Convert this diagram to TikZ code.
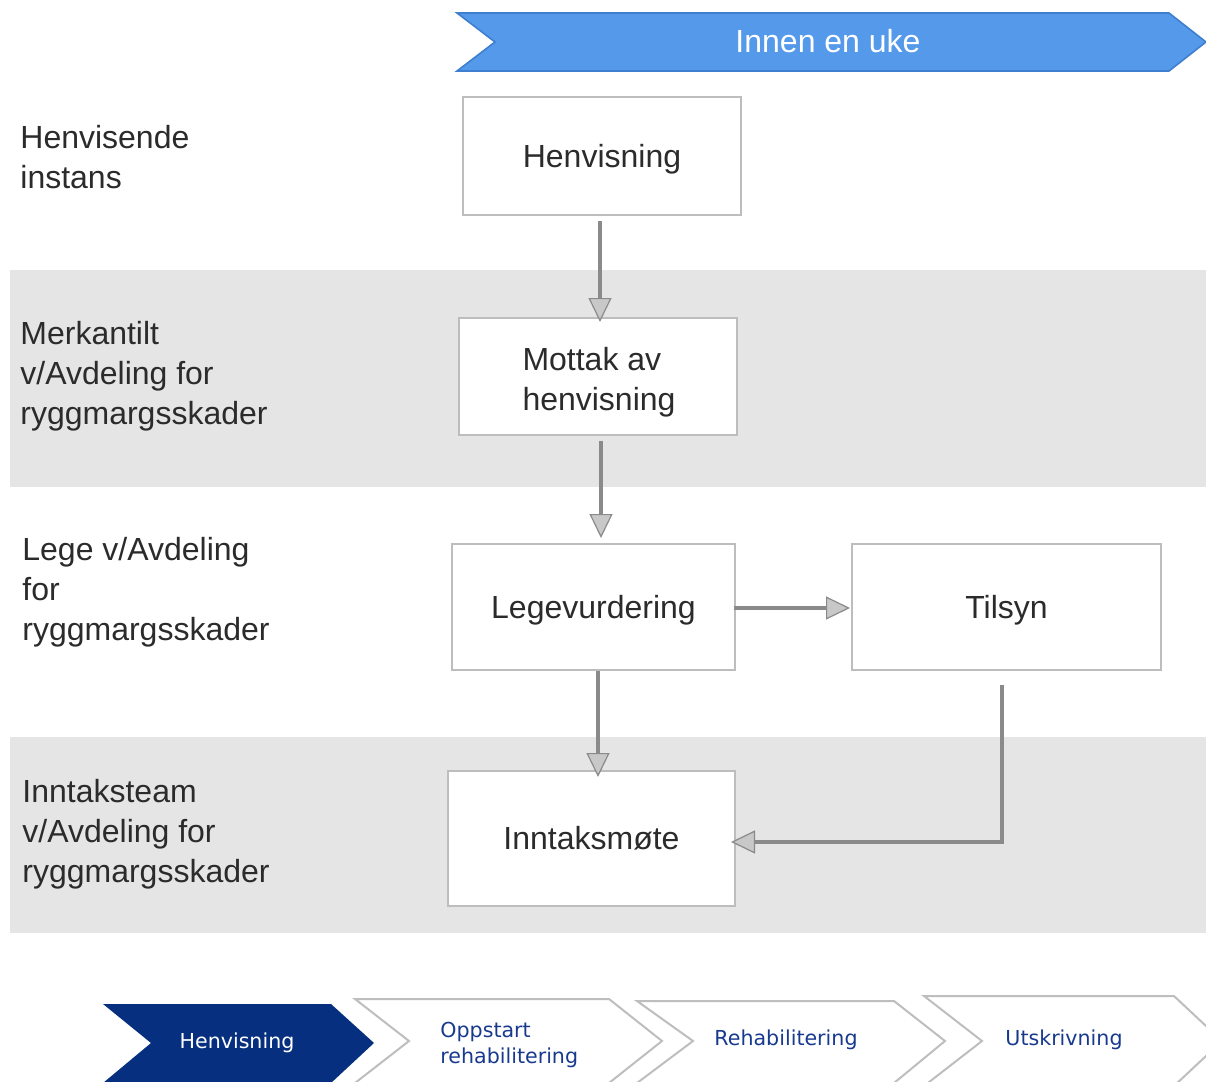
\documentclass[tikz,border=0pt]{standalone}
\usepackage{fontspec}
\setmainfont{Liberation Sans}
\newfontfamily\chevfont{DejaVu Sans}
\usetikzlibrary{arrows.meta,calc}
\definecolor{band}{HTML}{E5E5E5}
\definecolor{boxline}{HTML}{BDBDBD}
\definecolor{flowgray}{HTML}{8A8A8A}
\definecolor{tipfill}{HTML}{C8C8C8}
\definecolor{bannerblue}{HTML}{5599EB}
\definecolor{bannerline}{HTML}{3F7FD0}
\definecolor{navy}{HTML}{06307F}
\definecolor{chevtext}{HTML}{183A8E}
\definecolor{chevline}{HTML}{BEBEBE}
\definecolor{ink}{HTML}{2B2B2B}
\begin{document}
\begin{tikzpicture}[x=0.5pt,y=-0.5pt,
  stepbox/.style={draw=boxline,line width=1pt,fill=white,inner sep=0pt,
    font=\fontsize{16}{20}\selectfont,text=ink,align=left},
  boxtext/.style={inner sep=0pt,font=\fontsize{16}{20}\selectfont,text=ink,align=left},
  lane/.style={anchor=north west,inner sep=0pt,align=left,
    font=\fontsize{16}{20}\selectfont,text=ink},
  flow/.style={draw=flowgray,line width=1.75pt,
    -{Triangle[length=12pt,width=11.5pt,fill=tipfill,line width=0.6pt]}},
  chevlabel/.style={font=\chevfont\fontsize{10.3}{13}\selectfont,
    text=chevtext,align=left,inner sep=0pt},
  chevron/.style={draw=chevline,line width=1pt,fill=white}]

\useasboundingbox[fill=white] (0,0) rectangle (1206,1082);
\clip (0,0) rectangle (1206,1082);

% swimlane bands
\fill[band] (10,270) rectangle (1206,487);
\fill[band] (10,737) rectangle (1206,933);

% time banner
\draw[fill=bannerblue,draw=bannerline,line width=0.8pt]
  (457,13) -- (1169,13) -- (1206,42) -- (1169,71) -- (457,71) -- (495,42) -- cycle;
\node[text=white,font=\fontsize{16}{20}\selectfont] (uke) at (828,41) {Innen en uke};

% lane labels
\node[lane] (l1) at (20,125) {Henvisende\\instans};
\node[lane] (l2) at (20,321) {Merkantilt\\v/Avdeling for\\ryggmargsskader};
\node[lane] (l3) at (22,537) {Lege v/Avdeling\\for\\ryggmargsskader};
\node[lane] (l4) at (22,779) {Inntaksteam\\v/Avdeling for\\ryggmargsskader};

% process steps
\node[stepbox,text depth=0pt,minimum width=139pt,minimum height=59pt] (henv) at (602,156) {Henvisning};
\node[stepbox,minimum width=139pt,minimum height=58.5pt] (mottak) at (598,376.5) {};
\node[boxtext] (mottaktxt) at (599,382) {Mottak av\\henvisning};
\node[stepbox,text depth=0pt,minimum width=141.5pt,minimum height=63pt] (lege) at (593.5,607) {Legevurdering};
\node[stepbox,text depth=0pt,minimum width=154.5pt,minimum height=63pt] (tilsyn) at (1006.5,607) {Tilsyn};
\node[stepbox,minimum width=143.5pt,minimum height=67.5pt] (inntak) at (591.5,838.5) {Inntaksmøte};

% connector end points, placed relative to the steps
\coordinate (a1s) at ($(henv.south)+(-2,5)$);
\coordinate (a1y) at ($(mottak.north)+(0,5)$);
\coordinate (a2s) at ($(mottak.south)+(3,5)$);
\coordinate (a2y) at ($(lege.north)+(0,-5)$);
\coordinate (a3s) at ($(lege.south)+(4.5,0)$);
\coordinate (a3y) at ($(inntak.north)+(0,7)$);
\coordinate (a4s) at ($(lege.east)+(-2,1)$);
\coordinate (a4e) at ($(tilsyn.west)+(-1,1)$);
\coordinate (a5s) at ($(tilsyn.south)+(-4.5,14)$);
\coordinate (a5e) at ($(inntak.east)+(-5,3.5)$);

% flow arrows
\draw[flow] (a1s) -- (a1s |- a1y);
\draw[flow] (a2s) -- (a2s |- a2y);
\draw[flow] (a3s) -- (a3s |- a3y);
\draw[flow] (a4s) -- (a4e);
\draw[flow] (a5s) |- (a5e);

% phase chevrons
\fill[navy] (103,1004) -- (331,1004) -- (374,1043) -- (331,1083) -- (103,1083) -- (151,1043) -- cycle;
\node[text=white,font=\chevfont\fontsize{10.3}{13}\selectfont,inner sep=0pt] (p1) at (237,1043) {Henvisning};

\draw[chevron] (355,999) -- (609,999) -- (662,1041) -- (609,1083) -- (355,1083) -- (409,1041) -- cycle;
\node[chevlabel,anchor=west] (p2) at (440,1045) {Oppstart\\rehabilitering};

\draw[chevron] (637,1001) -- (894,1001) -- (945,1041) -- (894,1083) -- (637,1083) -- (693,1041) -- cycle;
\node[chevlabel] (p3) at (786,1040) {Rehabilitering};

\draw[chevron] (924,996) -- (1174,996) -- (1222,1041) -- (1174,1086) -- (924,1086) -- (982,1041) -- cycle;
\node[chevlabel] (p4) at (1064,1040) {Utskrivning};
\end{tikzpicture}
\end{document}
